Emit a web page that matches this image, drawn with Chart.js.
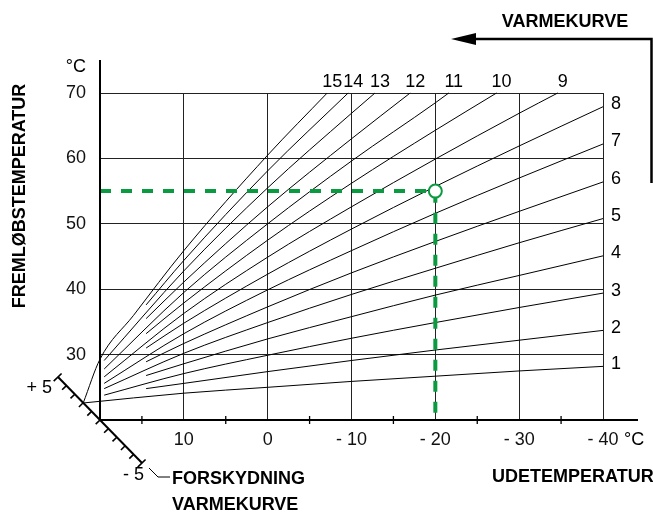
<!DOCTYPE html>
<html>
<head>
<meta charset="utf-8">
<script src="https://cdn.jsdelivr.net/npm/chart.js@4/dist/chart.umd.min.js"></script>
<style>
  html, body { margin: 0; padding: 0; background: #fff; }
  #wrap { width: 653px; height: 513px; position: relative; }
</style>
</head>
<body>
<div id="wrap"><canvas id="varmekurveChart"></canvas></div>
<script>
const outdoorGrid = [10, 0, -10, -20, -30, -40];
const curveLabels = ['1', '2', '3', '4', '5', '6', '7', '8', '9', '10', '11', '12', '13', '14', '15'];
// first points of each curve (curves start at different places near the origin)
const curveLeadIn = [
    [[22, 22.6]],
    [[14.5, 24.8]],
    [[19.5, 23.8]],
    [[14.5, 26.8]],
    [[19.5, 24.8]],
    [[14.5, 28.9]],
    [[19.5, 25.6]],
    [[14.5, 31.0]],
    [[19.5, 26.6]],
    [[14.5, 33.2]],
    [[19.5, 27.8]],
    [[14.5, 35.5]],
    [[19.5, 29.1]],
    [[14.5, 37.6]],
    [[22, 22.6], [20, 29.3], [16, 36.0]]
];
// flow temperature at outdoorGrid (until the curve leaves the top at 70)
const curveFlow = [
    [24.1, 25.0, 25.9, 26.7, 27.5, 28.2],
    [25.6, 27.4, 29.1, 30.7, 32.2, 33.7],
    [27.1, 29.9, 32.5, 34.9, 37.2, 39.4],
    [28.6, 32.4, 35.8, 39.1, 42.1, 45.1],
    [30.2, 34.9, 39.2, 43.2, 47.1, 50.8],
    [31.7, 37.3, 42.5, 47.3, 51.9, 56.4],
    [33.2, 39.9, 45.9, 51.6, 57.0, 62.2],
    [34.8, 42.3, 49.2, 55.7, 61.9, 67.9],
    [36.3, 44.9, 52.6, 59.9, 66.9],
    [37.9, 47.5, 56.2, 64.3],
    [39.5, 50.0, 59.6, 68.5],
    [41.1, 52.6, 63.0],
    [42.8, 55.5, 66.9],
    [44.4, 58.1],
    [45.9, 60.5]
];
// outdoor temperature where a curve reaches 70 (null = runs to -40)
const curveTopX = [null, null, null, null, null, null, null, null, -34.6, -27.3, -21.6, -17.0, -12.8, -9.6, -7.1];
const topFlow = 70;

// example reading: -20 outside -> 55 flow
const exampleOutdoor = -20;
const exampleFlow = 55;

const xTicks = [20, 10, 0, -10, -20, -30, -40];
const offsetRange = [-5, 5];

const FONT = "'Liberation Sans', Arial, sans-serif";
const GREEN = '#0a9a40';

const curveSets = curveFlow.map(function(vals, i) {
    const pts = curveLeadIn[i].map(p => ({ x: p[0], y: p[1] }));
    vals.forEach((v, j) => pts.push({ x: outdoorGrid[j], y: v }));
    if (curveTopX[i] !== null) pts.push({ x: curveTopX[i], y: topFlow });
    return {
        label: curveLabels[i],
        data: pts,
        showLine: true,
        borderColor: '#000',
        borderWidth: 1,
        pointRadius: 0,
        cubicInterpolationMode: 'monotone',
        clip: false,
        order: 3
    };
});

const exampleLine = {
    label: 'example',
    data: [{ x: 20, y: exampleFlow }, { x: exampleOutdoor, y: exampleFlow }, { x: exampleOutdoor, y: 20 }],
    showLine: true,
    borderColor: GREEN,
    borderWidth: 4,
    borderDash: [11, 10],
    pointRadius: 0,
    tension: 0,
    clip: false,
    order: 2
};
const examplePoint = {
    label: 'point',
    data: [{ x: exampleOutdoor, y: exampleFlow }],
    pointRadius: 6.5,
    pointBorderWidth: 2,
    pointBorderColor: GREEN,
    pointBackgroundColor: '#fff',
    showLine: false,
    clip: false,
    order: 1
};

function fmtOut(v) {
    if (v === 20) return '';
    return v < 0 ? '- ' + Math.abs(v) : String(v);
}

const decor = {
    id: 'decor',
    afterDatasetsDraw(chart) {
        const ctx = chart.ctx;
        const xs = chart.scales.x, ys = chart.scales.y;
        const ox = xs.getPixelForValue(20), oy = ys.getPixelForValue(20);
        const area = chart.chartArea;
        ctx.save();
        ctx.strokeStyle = '#000';
        ctx.fillStyle = '#000';

        // extended axes
        ctx.lineWidth = 2;
        ctx.beginPath();
        ctx.moveTo(ox, oy); ctx.lineTo(ox, 60);
        ctx.moveTo(ox, oy); ctx.lineTo(638, oy);
        ctx.stroke();

        // minor ticks on the outdoor axis
        ctx.lineWidth = 1.3;
        ctx.beginPath();
        [15, 5, -5, -15, -25, -35].forEach(function(v) {
            const px = xs.getPixelForValue(v);
            ctx.moveTo(px, oy - 4); ctx.lineTo(px, oy + 4);
        });
        ctx.stroke();

        // offset scale (forskydning) on the diagonal
        const ux = -8.4, uy = -8.6;
        const len = Math.hypot(ux, uy);
        const nx = uy / len, ny = -ux / len; // points down-left
        ctx.lineWidth = 2;
        ctx.beginPath();
        ctx.moveTo(ox + offsetRange[1] * ux, oy + offsetRange[1] * uy);
        ctx.lineTo(ox + offsetRange[0] * ux, oy + offsetRange[0] * uy);
        ctx.stroke();
        ctx.lineWidth = 1.6;
        ctx.beginPath();
        for (let k = offsetRange[0]; k <= offsetRange[1]; k++) {
            const px = ox + k * ux, py = oy + k * uy;
            if (Math.abs(k) === 5) {
                ctx.moveTo(px - nx * 5, py - ny * 5); ctx.lineTo(px + nx * 6, py + ny * 6);
            } else {
                ctx.moveTo(px, py); ctx.lineTo(px + nx * 6, py + ny * 6);
            }
        }
        ctx.stroke();

        // leader from "- 5" to the caption
        ctx.lineWidth = 1;
        ctx.beginPath();
        ctx.moveTo(149, 468); ctx.lineTo(158, 477); ctx.lineTo(170, 477);
        ctx.stroke();

        // direction arrow
        ctx.lineWidth = 2.5;
        ctx.beginPath();
        ctx.moveTo(474, 39); ctx.lineTo(651.5, 39); ctx.lineTo(651.5, 183);
        ctx.stroke();
        ctx.beginPath();
        ctx.moveTo(451, 39); ctx.lineTo(476, 33); ctx.lineTo(476, 45); ctx.closePath();
        ctx.fill();

        // texts
        ctx.font = '18px ' + FONT;
        ctx.textBaseline = 'middle';
        ctx.textAlign = 'right';
        ctx.fillText('°C', 86, 67);
        ctx.fillText('+ 5', 52, 388);
        ctx.fillText('- 5', 144, 475);
        ctx.textAlign = 'left';
        ctx.fillText('°C', 624, 440);

        // curve numbers
        curveLabels.forEach(function(lbl, i) {
            if (curveTopX[i] === null) {
                const last = curveFlow[i][curveFlow[i].length - 1];
                ctx.textAlign = 'left';
                ctx.fillText(lbl, area.right + 8, ys.getPixelForValue(last) - 2.5);
            } else {
                ctx.textAlign = 'center';
                ctx.fillText(lbl, xs.getPixelForValue(curveTopX[i]) + 5, area.top - 11);
            }
        });

        ctx.font = 'bold 18px ' + FONT;
        ctx.textAlign = 'center';
        ctx.fillText('VARMEKURVE', 565, 22);
        ctx.textAlign = 'left';
        ctx.fillText('FORSKYDNING', 172, 479);
        ctx.fillText('VARMEKURVE', 172, 505);
        ctx.fillText('UDETEMPERATUR', 492, 477);

        ctx.translate(20, 196);
        ctx.rotate(-Math.PI / 2);
        ctx.textAlign = 'center';
        ctx.fillText('FREMLØBSTEMPERATUR', 0, 0);
        ctx.restore();
    }
};

const canvas = document.getElementById('varmekurveChart').getContext('2d');
new Chart(canvas, {
    type: 'scatter',
    data: { datasets: curveSets.concat([exampleLine, examplePoint]) },
    options: {
        responsive: true,
        maintainAspectRatio: false,
        animation: false,
        events: [],
        layout: { padding: { left: 0, top: 93, right: 50, bottom: 0 } },
        plugins: {
            legend: { display: false },
            tooltip: { enabled: false },
            title: { display: false }
        },
        scales: {
            x: {
                type: 'linear',
                min: -40,
                max: 20,
                reverse: true,
                afterFit: s => { s.height = 93; },
                afterBuildTicks: s => { s.ticks = xTicks.map(v => ({ value: v })); },
                grid: { color: '#222', lineWidth: 1, drawTicks: false },
                border: { display: false },
                ticks: {
                    padding: 9,
                    color: '#111',
                    font: { family: FONT, size: 18 },
                    callback: v => fmtOut(v),
                    maxRotation: 0,
                    autoSkip: false
                }
            },
            y: {
                type: 'linear',
                min: 20,
                max: 70,
                afterFit: s => { s.width = 100; },
                grid: { color: '#222', lineWidth: 1, drawTicks: false },
                border: { display: false },
                ticks: {
                    stepSize: 10,
                    padding: 14,
                    color: '#111',
                    font: { family: FONT, size: 18 },
                    callback: v => (v === 20 ? '' : v)
                }
            }
        }
    },
    plugins: [decor]
});
</script>
</body>
</html>
